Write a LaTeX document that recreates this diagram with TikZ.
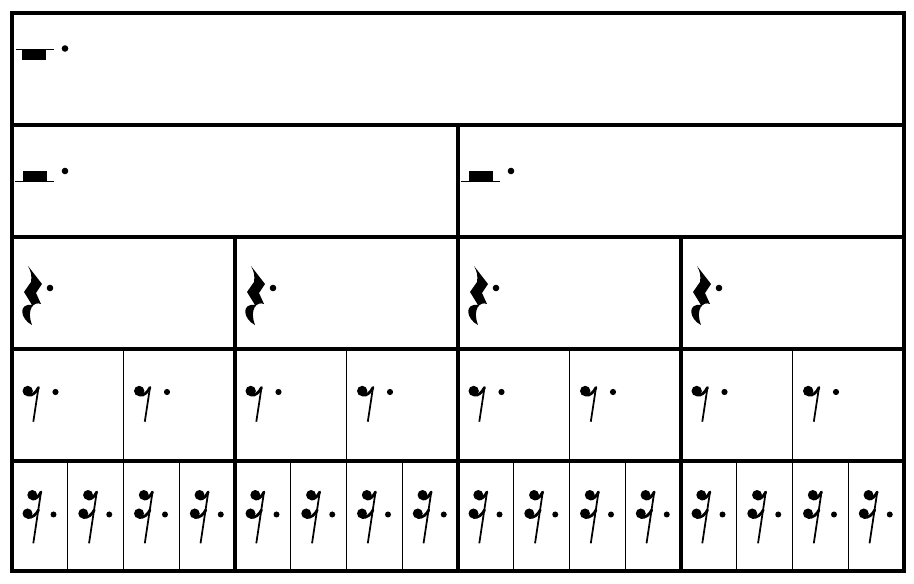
\documentclass[tikz,border=0pt]{standalone}
\usepackage{tikz}
\begin{document}
\begin{tikzpicture}
  [x=0.02cm,y=-0.02cm,
  bar/.style={black,line width=1.8pt},
  thinbar/.style={black,line width=0.6pt},
  stem/.style={black,line width=1pt},
  flag/.style={black,line width=1.6pt,line cap=round},
  wholerest/.pic={
    \fill (10,36.5) rectangle (34,47);
    \draw[thinbar] (4,36.5) -- (42,36.5);
    \fill (53,35.5) circle[radius=3.3];},
  halfrest/.pic={
    \fill (11,46) rectangle (35,56.5);
    \draw[thinbar] (3,56.5) -- (42,56.5);
    \fill (53,46) circle[radius=3.3];},
  quarterrest/.pic={
    \fill (16,29) -- (30,47) -- (24,56) -- (29,67) .. controls (22,64) and (14,72) .. (20,88)
      .. controls (8,82) and (6,66) .. (20,68) -- (12,55) -- (19,45) .. controls (20,39) and (19,34) .. cycle;
    \fill (38,51) circle[radius=3.3];},
  eighthrest/.pic={
    \fill (15.7,42) circle[radius=5.2];
    \draw[flag] (16,46) .. controls (21,47) and (24,43) .. (26.5,38.5);
    \draw[stem] (26.5,38.5) -- (21.3,72.7);
    \fill (43.5,43) circle[radius=3.1];},
  sixteenthrest/.pic={
    \fill (20.3,34) circle[radius=5];
    \fill (15.5,52.5) circle[radius=5];
    \draw[flag] (20.5,38) .. controls (24,38.5) and (27,35) .. (29,31);
    \draw[flag] (15.7,56.5) .. controls (20,57) and (24.5,53.5) .. (26.5,49);
    \draw[stem] (29,31) -- (21.3,82.3);
    \fill (41.5,53.5) circle[radius=3];}]
  \useasboundingbox (0,0) rectangle (914,584);

  % frame and rows
  \draw[bar] (12,13) rectangle (904,571);
  \draw[bar] (12,125) -- (904,125);
  \draw[bar] (12,237) -- (904,237);
  \draw[bar] (12,349) -- (904,349);
  \draw[bar] (12,461) -- (904,461);
  \draw[bar] (458,125) -- (458,571);
  \draw[bar] (235,237) -- (235,571);
  \draw[bar] (681,237) -- (681,571);

  % eighths and sixteenths
  \draw[thinbar] (123.5,349) -- (123.5,571);
  \draw[thinbar] (346.5,349) -- (346.5,571);
  \draw[thinbar] (569.5,349) -- (569.5,571);
  \draw[thinbar] (792.5,349) -- (792.5,571);
  \draw[thinbar] (67.75,461) -- (67.75,571);
  \draw[thinbar] (179.25,461) -- (179.25,571);
  \draw[thinbar] (290.75,461) -- (290.75,571);
  \draw[thinbar] (402.25,461) -- (402.25,571);
  \draw[thinbar] (513.75,461) -- (513.75,571);
  \draw[thinbar] (625.25,461) -- (625.25,571);
  \draw[thinbar] (736.75,461) -- (736.75,571);
  \draw[thinbar] (848.25,461) -- (848.25,571);

  % rests
  \pic at (12,13) {wholerest};
  \pic at (12,125) {halfrest};
  \pic at (458,125) {halfrest};
  \pic at (12,237) {quarterrest};
  \pic at (235,237) {quarterrest};
  \pic at (458,237) {quarterrest};
  \pic at (681,237) {quarterrest};
  \pic at (12,349) {eighthrest};
  \pic at (123.5,349) {eighthrest};
  \pic at (235,349) {eighthrest};
  \pic at (346.5,349) {eighthrest};
  \pic at (458,349) {eighthrest};
  \pic at (569.5,349) {eighthrest};
  \pic at (681,349) {eighthrest};
  \pic at (792.5,349) {eighthrest};
  \pic at (12,461) {sixteenthrest};
  \pic at (67.75,461) {sixteenthrest};
  \pic at (123.5,461) {sixteenthrest};
  \pic at (179.25,461) {sixteenthrest};
  \pic at (235,461) {sixteenthrest};
  \pic at (290.75,461) {sixteenthrest};
  \pic at (346.5,461) {sixteenthrest};
  \pic at (402.25,461) {sixteenthrest};
  \pic at (458,461) {sixteenthrest};
  \pic at (513.75,461) {sixteenthrest};
  \pic at (569.5,461) {sixteenthrest};
  \pic at (625.25,461) {sixteenthrest};
  \pic at (681,461) {sixteenthrest};
  \pic at (736.75,461) {sixteenthrest};
  \pic at (792.5,461) {sixteenthrest};
  \pic at (848.25,461) {sixteenthrest};
\end{tikzpicture}
\end{document}
